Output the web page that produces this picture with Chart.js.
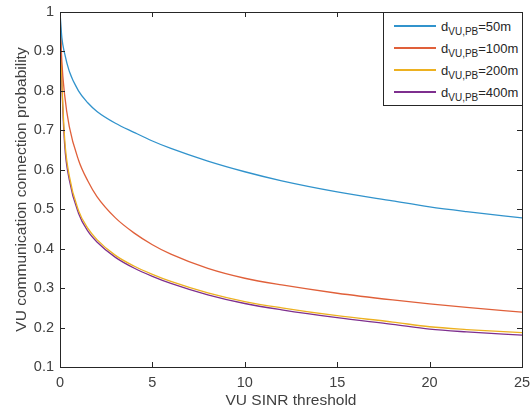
<!DOCTYPE html>
<html>
<head>
<meta charset="utf-8">
<script src="https://cdn.jsdelivr.net/npm/chart.js@4/dist/chart.umd.min.js"></script>
<style>
  html, body { margin: 0; padding: 0; background: #fff; }
  #wrap { position: relative; width: 532px; height: 414px; }
  #legend {
    position: absolute; box-sizing: border-box; background: #fff;
    border: 1px solid #262626; font-family: "Liberation Sans", Arial, sans-serif;
    font-size: 13px; color: #262626; padding: 2px 0 0 10px;
  }
  #legend .row { display: flex; align-items: center; height: 22px; white-space: nowrap; }
  #legend .swatch { width: 42px; height: 2px; margin-right: 5px; }
  #legend sub { font-size: 10px; vertical-align: -4px; line-height: 0; }
</style>
</head>
<body>
<div id="wrap">
  <canvas id="chart" width="532" height="414"></canvas>
  <div id="legend"></div>
</div>
<script>
// SINR threshold samples
const thresholds = [0, 0.1, 0.25, 0.5, 1, 1.5, 2, 3, 4, 5, 6, 8, 10, 12, 15, 18, 20, 22, 25];

// connection probability for each VU-PB distance
const prob50  = [1.0, 0.935, 0.895, 0.850, 0.800, 0.770, 0.748, 0.718, 0.695, 0.673, 0.654, 0.622, 0.595, 0.572, 0.544, 0.521, 0.506, 0.494, 0.478];
const prob100 = [1.0, 0.875, 0.790, 0.710, 0.625, 0.572, 0.532, 0.478, 0.440, 0.410, 0.386, 0.350, 0.325, 0.308, 0.287, 0.270, 0.260, 0.251, 0.239];
const prob200 = [1.0, 0.830, 0.680, 0.585, 0.497, 0.452, 0.423, 0.383, 0.356, 0.335, 0.317, 0.288, 0.266, 0.250, 0.230, 0.214, 0.202, 0.195, 0.187];
const prob400 = [1.0, 0.820, 0.665, 0.575, 0.490, 0.445, 0.417, 0.378, 0.351, 0.330, 0.312, 0.283, 0.261, 0.245, 0.225, 0.208, 0.196, 0.189, 0.181];

const distances = ['50m', '100m', '200m', '400m'];
const colors = ['#3193cc', '#e0603a', '#edb120', '#7e2f8e'];
const allSeries = [prob50, prob100, prob200, prob400];

const xTicks = [0, 5, 10, 15, 20, 25];
const yTicks = [0.1, 0.2, 0.3, 0.4, 0.5, 0.6, 0.7, 0.8, 0.9, 1];

const FONT = '"Liberation Sans", Arial, sans-serif';
const INK = '#262626';
const LABEL = '#404040';

const datasets = allSeries.map((s, i) => ({
  label: 'd VU,PB =' + distances[i],
  data: thresholds.map((t, j) => ({ x: t, y: s[j] })),
  borderColor: colors[i],
  borderWidth: 1.3,
  pointRadius: 0,
  fill: false,
  cubicInterpolationMode: 'monotone'
}));

// box around the axes with MATLAB-like inward ticks
const framePlugin = {
  id: 'frame',
  afterDraw(chart) {
    const ctx = chart.ctx, a = chart.chartArea;
    const xs = chart.scales.x, ys = chart.scales.y;
    ctx.save();
    ctx.strokeStyle = INK;
    ctx.lineWidth = 1;
    ctx.strokeRect(a.left + 0.5, a.top + 0.5, a.right - a.left, a.bottom - a.top);
    ctx.beginPath();
    xTicks.forEach(v => {
      const px = Math.round(xs.getPixelForValue(v)) + 0.5;
      ctx.moveTo(px, a.bottom); ctx.lineTo(px, a.bottom - 5);
      ctx.moveTo(px, a.top); ctx.lineTo(px, a.top + 5);
    });
    yTicks.forEach(v => {
      const py = Math.round(ys.getPixelForValue(v)) + 0.5;
      ctx.moveTo(a.left, py); ctx.lineTo(a.left + 5, py);
      ctx.moveTo(a.right, py); ctx.lineTo(a.right - 5, py);
    });
    ctx.stroke();
    ctx.restore();
  },
  afterRender(chart) {
    const a = chart.chartArea;
    const lg = document.getElementById('legend');
    lg.style.left = Math.round(a.right - 140 + 1) + 'px';
    lg.style.top = Math.round(a.top) + 'px';
    lg.style.width = '140px';
    lg.style.height = '94px';
  }
};

new Chart(document.getElementById('chart'), {
  type: 'line',
  data: { datasets },
  plugins: [framePlugin],
  options: {
    responsive: false,
    animation: false,
    layout: { padding: { left: 0, top: 12, right: 0, bottom: 0 } },
    plugins: { legend: { display: false }, tooltip: { enabled: false } },
    scales: {
      x: {
        type: 'linear', min: 0, max: 25,
        afterBuildTicks: s => { s.ticks = xTicks.map(v => ({ value: v })); },
        afterFit: s => { s.height = 47; s.paddingRight = 10; s.paddingLeft = 0; },
        grid: { display: false, drawTicks: false },
        border: { display: false },
        ticks: { color: LABEL, font: { family: FONT, size: 14.5 }, padding: 7, maxRotation: 0 },
        title: { display: true, text: 'VU SINR threshold', color: LABEL, font: { family: FONT, size: 15.5 }, padding: { top: 0, bottom: 4 } }
      },
      y: {
        type: 'linear', min: 0.1, max: 1,
        afterBuildTicks: s => { s.ticks = yTicks.map(v => ({ value: v })); },
        afterFit: s => { s.width = 60; s.paddingTop = 0; s.paddingBottom = 0; },
        grid: { display: false, drawTicks: false },
        border: { display: false },
        ticks: { color: LABEL, font: { family: FONT, size: 14.5 }, padding: 6,
                 callback: v => String(+v.toFixed(1)) },
        title: { display: true, text: 'VU communication connection probability', color: LABEL, font: { family: FONT, size: 15.5 }, padding: { top: 12, bottom: 0 } }
      }
    }
  }
});

// legend with subscripts
document.getElementById('legend').innerHTML = distances.map((d, i) =>
  '<div class="row"><span class="swatch" style="background:' + colors[i] + '"></span>' +
  '<span>d<sub>VU,PB</sub>=' + d + '</span></div>'
).join('');
</script>
</body>
</html>
